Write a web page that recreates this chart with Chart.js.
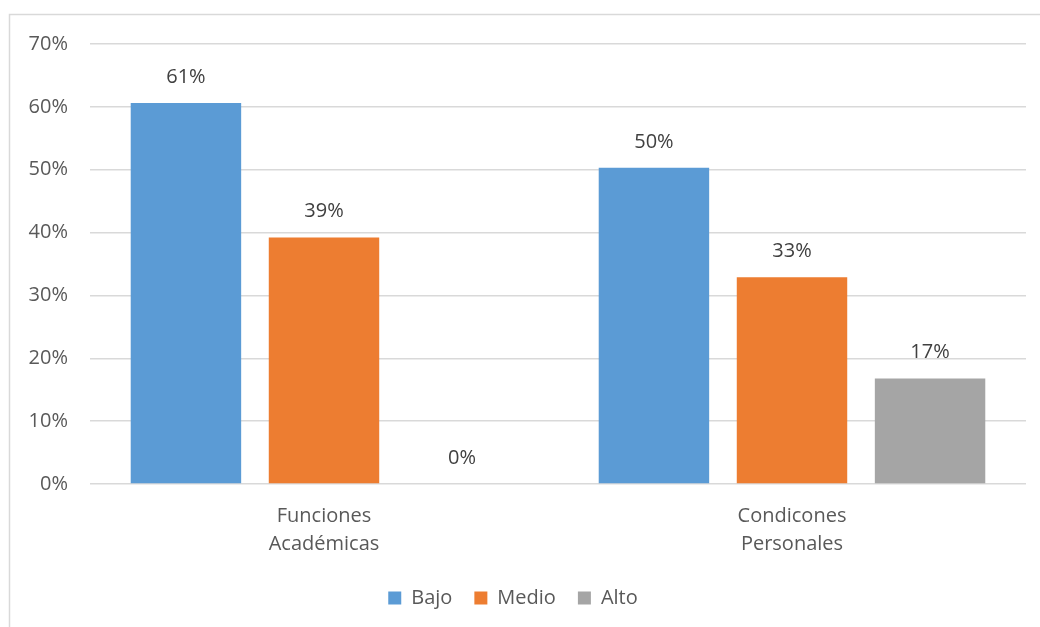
<!DOCTYPE html>
<html>
<head>
<meta charset="utf-8">
<script src="https://cdn.jsdelivr.net/npm/chart.js@4"></script>
<style>
  html, body { margin: 0; padding: 0; background: #fff; }
  #wrap { width: 1040px; height: 627px; }
</style>
</head>
<body>
<div id="wrap"><canvas id="chart" width="1040" height="627"></canvas></div>
<script>
const categories = [['Funciones', 'Académicas'], ['Condicones', 'Personales']];
const bajo = [60.6, 50.3];
const medio = [39.2, 32.9];
const alto = [0, 16.8];
const yTicks = [0, 10, 20, 30, 40, 50, 60, 70];

const FONT = '"Open Sans", sans-serif';

// light frame like the original chart area border
const framePlugin = {
    id: 'frame',
    beforeDraw(chart) {
        const ctx = chart.ctx;
        ctx.save();
        ctx.strokeStyle = '#d9d9d9';
        ctx.lineWidth = 1.5;
        ctx.strokeRect(9.5, 14.5, 1200, 1200);
        ctx.restore();
    }
};

// value labels above the bars
const valueLabels = {
    id: 'valueLabels',
    afterDatasetsDraw(chart) {
        const ctx = chart.ctx;
        ctx.save();
        ctx.font = '20px ' + FONT;
        ctx.fillStyle = '#404040';
        ctx.textAlign = 'center';
        ctx.textBaseline = 'bottom';
        chart.data.datasets.forEach((ds, i) => {
            chart.getDatasetMeta(i).data.forEach((bar, j) => {
                ctx.fillText(Math.round(ds.data[j]) + '%', bar.x, bar.y - 16);
            });
        });
        ctx.restore();
    }
};

function main() {
    const canvas = document.querySelector('#chart');
    new Chart(canvas.getContext('2d'), {
        type: 'bar',
        data: {
            labels: categories,
            datasets: [
                { label: 'Bajo', data: bajo, backgroundColor: '#5b9bd5' },
                { label: 'Medio', data: medio, backgroundColor: '#ed7d31' },
                { label: 'Alto', data: alto, backgroundColor: '#a5a5a5' }
            ]
        },
        options: {
            responsive: false,
            animation: false,
            layout: { padding: { left: 0, right: 14, top: 44, bottom: 9 } },
            datasets: { bar: { categoryPercentage: 0.885, barPercentage: 0.8 } },
            plugins: {
                tooltip: { enabled: false },
                legend: {
                    position: 'bottom',
                    labels: {
                        boxWidth: 13,
                        boxHeight: 13,
                        padding: 22,
                        color: '#595959',
                        font: { family: FONT, size: 20 }
                    }
                }
            },
            scales: {
                x: {
                    grid: { display: false },
                    border: { display: false },
                    ticks: {
                        color: '#595959',
                        font: { family: FONT, size: 20, lineHeight: 1.4 },
                        padding: 10,
                        maxRotation: 0
                    },
                    afterFit(axis) { axis.height = 82; }
                },
                y: {
                    min: 0,
                    max: 70,
                    afterBuildTicks(axis) { axis.ticks = yTicks.map(v => ({ value: v })); },
                    grid: { color: '#d9d9d9', lineWidth: 1.5, drawTicks: false },
                    border: { display: false },
                    ticks: {
                        color: '#595959',
                        font: { family: FONT, size: 20 },
                        padding: 22,
                        callback: v => v + '%'
                    },
                    afterFit(axis) { axis.width = 90; }
                }
            }
        },
        plugins: [framePlugin, valueLabels]
    });
}

main();
</script>
</body>
</html>
